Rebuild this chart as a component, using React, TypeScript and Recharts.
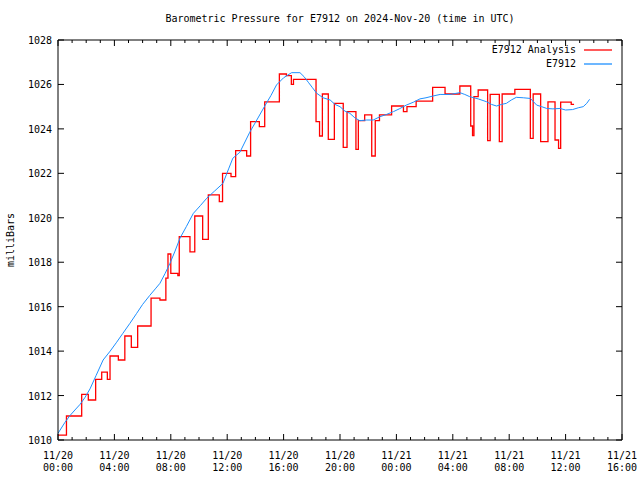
import { LineChart, Line, XAxis, YAxis } from "recharts";

// hours since 11/20 00:00 UTC
const stationHours = [
  0, 0.5, 0.85, 1.2, 1.56, 1.9, 2.27, 2.7, 3.2, 3.7, 4.16, 4.6, 5.1, 5.58, 6.0, 6.5, 6.9, 7.23, 7.6, 7.94,
  8.3, 8.65, 9.1, 9.6, 10.1, 10.55, 11.1, 11.7, 12.1, 12.4, 12.9, 13.6, 14.1, 14.7, 15.1, 15.5, 16.0, 16.57,
  17.16, 17.45, 17.75, 18.05, 18.35, 18.8, 19.3, 19.65, 20.0, 20.35, 20.7, 21.05, 21.4, 21.9, 22.36, 22.84,
  23.3, 23.8, 24.2, 24.7, 25.2, 25.67, 26.1, 26.6, 27.1, 27.8, 28.5, 28.85, 29.2, 29.8, 30.4, 30.75, 31.1,
  31.45, 31.8, 32.15, 32.5, 33.0, 33.5, 33.95, 34.3, 34.66, 35.1, 35.6, 36.0, 36.5, 36.9, 37.25, 37.5, 37.7,
];
const stationPressure = [
  1010.3, 1010.8, 1011.1, 1011.35, 1011.6, 1011.9, 1012.3, 1012.9, 1013.6, 1014.0, 1014.4, 1014.8, 1015.25,
  1015.7, 1016.1, 1016.5, 1016.8, 1017.05, 1017.5, 1017.95, 1018.5, 1019.08, 1019.6, 1020.2, 1020.55,
  1020.88, 1021.2, 1021.55, 1022.2, 1022.68, 1022.95, 1023.85, 1024.4, 1025.07, 1025.5, 1025.98, 1026.3,
  1026.53, 1026.53, 1026.35, 1026.1, 1025.85, 1025.6, 1025.4, 1025.3, 1025.1, 1025.0, 1024.8, 1024.7,
  1024.5, 1024.37, 1024.4, 1024.4, 1024.55, 1024.65, 1024.78, 1024.9, 1025.07, 1025.2, 1025.35, 1025.4,
  1025.48, 1025.55, 1025.55, 1025.63, 1025.55, 1025.45, 1025.35, 1025.22, 1025.1, 1025.03, 1025.1, 1025.15,
  1025.3, 1025.42, 1025.4, 1025.37, 1025.07, 1025.0, 1024.92, 1024.9, 1024.92, 1024.85, 1024.87, 1024.95,
  1025.0, 1025.15, 1025.33,
];

const analysisHours = [
  0, 0.6, 1.68, 2.15, 2.67, 3.1, 3.5, 3.69, 4.28, 4.74, 5.2, 5.65, 6.6, 7.23, 7.65, 7.8, 8.0, 8.5, 8.6,
  9.36, 9.7, 10.26, 10.66, 11.44, 11.67, 12.27, 12.6, 13.38, 13.66, 14.28, 14.66, 15.7, 16.2, 16.55, 16.7,
  18.3, 18.55, 18.75, 19.17, 19.6, 20.23, 20.5, 21.13, 21.3, 21.75, 22.25, 22.5, 22.8, 23.66, 24.5, 24.75,
  25.4, 26.57, 27.45, 28.5, 29.27, 29.4, 29.5, 29.8, 30.47, 30.65, 31.3, 31.5, 32.4, 33.5, 33.7, 34.23,
  34.75, 35.25, 35.5, 35.65, 36.4, 36.6,
];
const analysisPressure = [
  1010.22, 1011.08, 1012.05, 1011.8, 1012.73, 1013.05, 1012.73, 1013.78, 1013.6, 1014.68, 1014.17,
  1015.13, 1016.38, 1016.3, 1017.28, 1018.37, 1017.5, 1017.4, 1019.15, 1018.47, 1020.08, 1019.03,
  1021.03, 1020.73, 1022.0, 1021.85, 1023.02, 1022.78, 1024.33, 1024.1, 1025.22, 1026.47, 1026.4,
  1026.0, 1026.23, 1024.33, 1023.68, 1025.57, 1023.53, 1025.15, 1023.17, 1024.78, 1023.08, 1024.37,
  1024.63, 1022.78, 1024.37, 1024.63, 1025.03, 1024.78, 1025.0, 1025.25, 1025.87, 1025.57, 1025.93,
  1024.13, 1023.7, 1025.45, 1025.75, 1023.47, 1025.55, 1023.43, 1025.57, 1025.78, 1023.57, 1025.57,
  1023.43, 1025.22, 1023.5, 1023.12, 1025.2, 1025.1, 1025.1,
];

const hourTicks = Array.from({ length: 41 }, (_, i) => i);
const dayLabels = ["11/20", "11/20", "11/20", "11/20", "11/20", "11/20", "11/21", "11/21", "11/21", "11/21", "11/21"];
const timeLabels = ["00:00", "04:00", "08:00", "12:00", "16:00", "20:00", "00:00", "04:00", "08:00", "12:00", "16:00"];
const pressureTicks = [1010, 1012, 1014, 1016, 1018, 1020, 1022, 1024, 1026, 1028];

const stationData = stationHours.map((h, i) => ({ h, p: stationPressure[i] }));
const analysisData = analysisHours.map((h, i) => ({ h, p: analysisPressure[i] }));

const FONT = "'DejaVu Sans Mono', monospace";
const RED = "#ff0000";
const BLUE = "#1e90ff";

function BottomTick(props: any) {
  const { x, y, payload } = props;
  const major = payload.value % 4 === 0;
  const idx = payload.value / 4;
  return (
    <g>
      <line x1={x} y1={y} x2={x} y2={y - (major ? 6 : 3)} stroke="#000" />
      {major && (
        <text x={x} y={y + 19} textAnchor="middle" fontFamily={FONT} fontSize={10} fill="#000">
          <tspan x={x}>{dayLabels[idx]}</tspan>
          <tspan x={x} dy={12}>{timeLabels[idx]}</tspan>
        </text>
      )}
    </g>
  );
}

function TopTick(props: any) {
  const { x, y, payload } = props;
  const major = payload.value % 4 === 0;
  return <line x1={x} y1={y} x2={x} y2={y + (major ? 6 : 3)} stroke="#000" />;
}

function LeftTick(props: any) {
  const { x, y, payload } = props;
  return (
    <g>
      <line x1={x} y1={y} x2={x + 6} y2={y} stroke="#000" />
      <text x={x - 6} y={y + 4} textAnchor="end" fontFamily={FONT} fontSize={10} fill="#000">
        {payload.value}
      </text>
    </g>
  );
}

function RightTick(props: any) {
  const { x, y } = props;
  return <line x1={x} y1={y} x2={x - 6} y2={y} stroke="#000" />;
}

function Swatch({ color }: { color: string }) {
  return (
    <svg width={28} height={6} style={{ marginLeft: 8 }}>
      <line x1={0} y1={3} x2={28} y2={3} stroke={color} strokeWidth={1.3} />
    </svg>
  );
}

export default function App() {
  return (
    <div style={{ position: "absolute", left: 0, top: 0, width: 640, height: 480, background: "#fff" }}>
      <div
        style={{
          position: "absolute",
          top: 12,
          left: 58,
          width: 564,
          textAlign: "center",
          fontFamily: FONT,
          fontSize: 10,
          lineHeight: "14px",
        }}
      >
        Barometric Pressure for E7912 on 2024-Nov-20 (time in UTC)
      </div>
      <div
        style={{
          position: "absolute",
          left: 10,
          top: 240,
          transform: "translate(-50%, -50%) rotate(-90deg)",
          fontFamily: FONT,
          fontSize: 10,
          whiteSpace: "nowrap",
        }}
      >
        milliBars
      </div>
      <div style={{ position: "absolute", right: 28, top: 43, fontFamily: FONT, fontSize: 10, lineHeight: "14px" }}>
        <div style={{ display: "flex", alignItems: "center", justifyContent: "flex-end" }}>
          <span>E7912 Analysis</span>
          <Swatch color={RED} />
        </div>
        <div style={{ display: "flex", alignItems: "center", justifyContent: "flex-end" }}>
          <span>E7912</span>
          <Swatch color={BLUE} />
        </div>
      </div>
      <LineChart width={640} height={480} margin={{ top: 39, right: 17, bottom: 0, left: 0 }}>
        <XAxis
          xAxisId="b"
          dataKey="h"
          type="number"
          domain={[0, 40]}
          ticks={hourTicks}
          interval={0}
          height={40}
          tickSize={0}
          tickMargin={0}
          tickLine={false}
          tick={<BottomTick />}
          stroke="#000"
        />
        <XAxis
          xAxisId="t"
          orientation="top"
          dataKey="h"
          type="number"
          domain={[0, 40]}
          ticks={hourTicks}
          interval={0}
          height={1}
          tickSize={0}
          tickMargin={0}
          tickLine={false}
          tick={<TopTick />}
          stroke="#000"
        />
        <YAxis
          yAxisId="l"
          type="number"
          domain={[1010, 1028]}
          ticks={pressureTicks}
          interval={0}
          width={58}
          tickSize={0}
          tickMargin={0}
          tickLine={false}
          tick={<LeftTick />}
          stroke="#000"
        />
        <YAxis
          yAxisId="r"
          orientation="right"
          type="number"
          domain={[1010, 1028]}
          ticks={pressureTicks}
          interval={0}
          width={1}
          tickSize={0}
          tickMargin={0}
          tickLine={false}
          tick={<RightTick />}
          stroke="#000"
        />
        <Line
          xAxisId="b"
          yAxisId="l"
          data={analysisData}
          dataKey="p"
          type="stepAfter"
          stroke={RED}
          strokeWidth={1.3}
          dot={false}
          isAnimationActive={false}
        />
        {/* same domains as the bottom/left axes, so it maps identically */}
        <Line
          xAxisId="t"
          yAxisId="r"
          data={stationData}
          dataKey="p"
          type="linear"
          stroke={BLUE}
          strokeWidth={1}
          dot={false}
          isAnimationActive={false}
        />
      </LineChart>
    </div>
  );
}
